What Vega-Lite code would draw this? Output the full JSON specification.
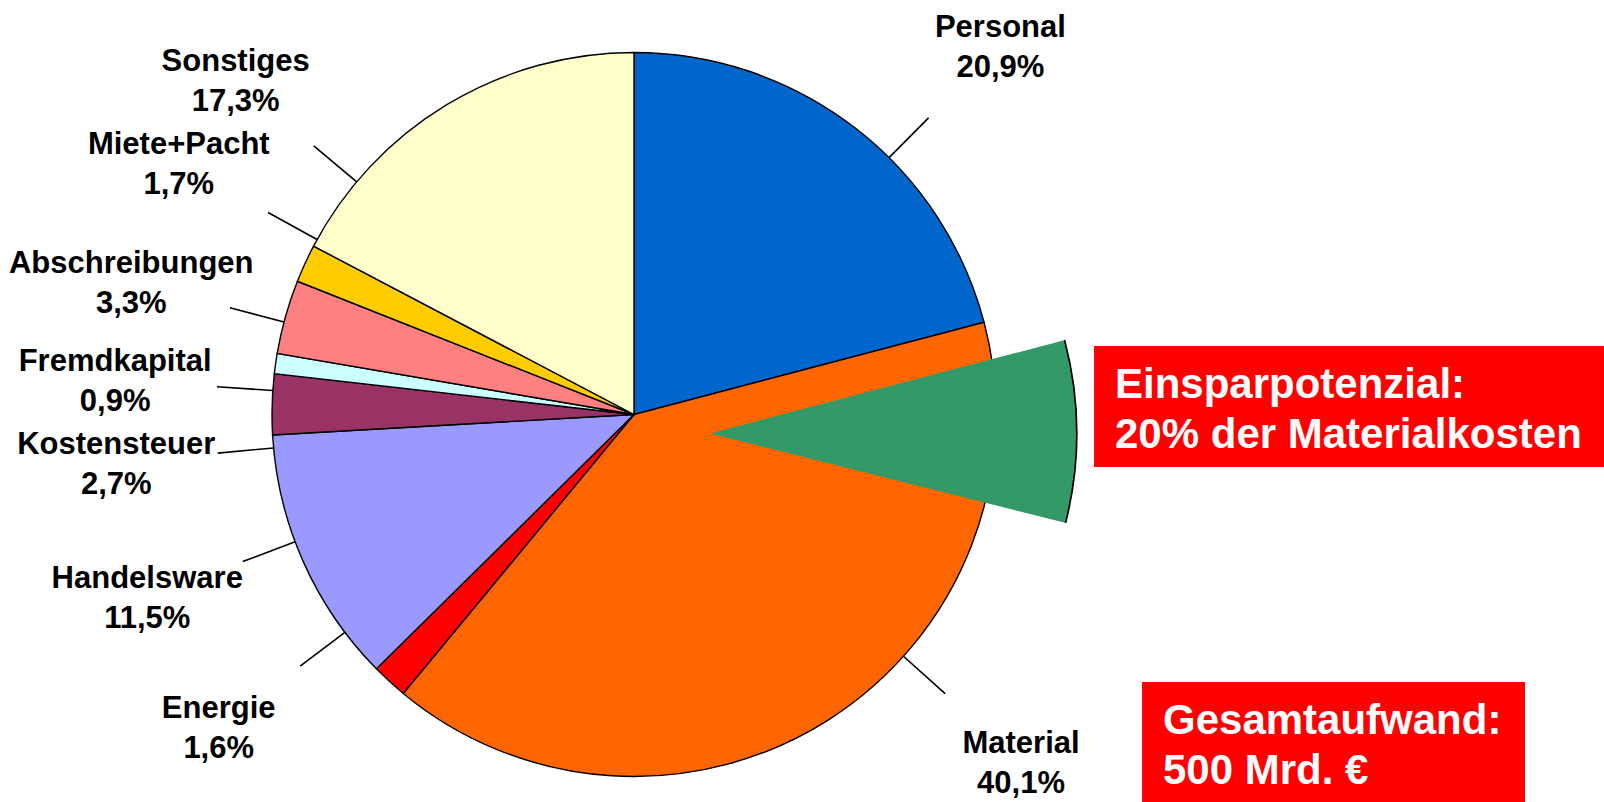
{
  "$schema": "https://vega.github.io/schema/vega-lite/v6.json",
  "background": "#ffffff",
  "padding": 0,
  "bounds": "flush",
  "spacing": 0,
  "config": {
    "view": {"stroke": null},
    "text": {"font": "Liberation Sans"},
    "locale": {"number": {"decimal": ",", "thousands": ".", "grouping": [3], "currency": ["", " €"]}}
  },
  "datasets": {
    "kosten": [
      {"Kategorie": "Personal", "Anteil": 0.209, "Nr": 1},
      {"Kategorie": "Einsparpotenzial", "Anteil": 0.0802, "Nr": 2},
      {"Kategorie": "Material", "Anteil": 0.401, "Nr": 3},
      {"Kategorie": "Energie", "Anteil": 0.016, "Nr": 4},
      {"Kategorie": "Handelsware", "Anteil": 0.115, "Nr": 5},
      {"Kategorie": "Kostensteuer", "Anteil": 0.027, "Nr": 6},
      {"Kategorie": "Fremdkapital", "Anteil": 0.009, "Nr": 7},
      {"Kategorie": "Abschreibungen", "Anteil": 0.033, "Nr": 8},
      {"Kategorie": "Miete+Pacht", "Anteil": 0.017, "Nr": 9},
      {"Kategorie": "Sonstiges", "Anteil": 0.173, "Nr": 10}
    ],
    "hinweis1": [{"Hinweis": "Einsparpotenzial:\n20% der Materialkosten"}],
    "hinweis2": [{"Hinweis": "Gesamtaufwand:\n500 Mrd. €"}]
  },
  "vconcat": [
    {"width": 1, "height": 27, "data": {"values": [{}]}, "mark": "text", "encoding": {"text": {"value": ""}}},
    {
      "hconcat": [
        {"width": 174, "height": 775, "data": {"values": [{}]}, "mark": "text", "encoding": {"text": {"value": ""}}},
        {
          "width": 920,
          "height": 775,
          "data": {"name": "kosten"},
          "resolve": {"scale": {"theta": "independent"}},
          "layer": [
            {
              "transform": [{"filter": "datum.Kategorie !== 'Einsparpotenzial'"}],
              "mark": {"type": "arc", "radius": 362, "stroke": "#000000", "strokeWidth": 1.4},
              "encoding": {
                "theta": {"field": "Anteil", "type": "quantitative", "stack": true, "scale": {"domain": [0, 1], "zero": false, "nice": false}},
                "color": {
                  "field": "Kategorie", "type": "nominal", "legend": null,
                  "scale": {
                    "domain": ["Personal", "Einsparpotenzial", "Material", "Energie", "Handelsware", "Kostensteuer", "Fremdkapital", "Abschreibungen", "Miete+Pacht", "Sonstiges"],
                    "range": ["#0066cc", "#339966", "#ff6600", "#ff0000", "#9999ff", "#993366", "#ccffff", "#ff8080", "#ffcc00", "#ffffcc"]
                  }
                },
                "order": {"field": "Nr", "type": "quantitative"}
              }
            },
            {
              "transform": [{"filter": "datum.Kategorie !== 'Einsparpotenzial'"}],
              "mark": {"type": "arc", "radius": 418, "radius2": 362, "padAngle": 3.1, "filled": false, "stroke": "#000000", "strokeWidth": 1.6},
              "encoding": {
                "theta": {"field": "Anteil", "type": "quantitative", "stack": true,
                  "scale": {"type": "linear", "domain": [0, 0.209, 0.61, 0.626, 0.741, 0.768, 0.777, 0.81, 0.827, 1], "range": [0.76271, 0.80111, 3.80307, 4.33016, 4.37554, 4.86423, 4.69319, 5.24821, 5.18538, 5.63567], "zero": false, "nice": false}},
                "detail": {"field": "Kategorie", "type": "nominal"},
                "order": {"field": "Nr", "type": "quantitative"}
              }
            },
            {
              "transform": [{"filter": {"field": "Kategorie", "oneOf": ["Personal", "Einsparpotenzial"]}}],
              "mark": {"type": "arc", "radius": 367, "xOffset": 76, "yOffset": 19},
              "encoding": {
                "theta": {"field": "Anteil", "type": "quantitative", "stack": true, "scale": {"domain": [0, 1], "zero": false, "nice": false}},
                "color": {"field": "Kategorie", "type": "nominal", "legend": null},
                "opacity": {"condition": {"test": "datum.Kategorie === 'Einsparpotenzial'", "value": 1}, "value": 0},
                "order": {"field": "Nr", "type": "quantitative"}
              }
            },
            {
              "transform": [{"filter": {"field": "Kategorie", "oneOf": ["Personal", "Einsparpotenzial"]}}],
              "mark": {"type": "arc", "radius": 367.5, "radius2": 365.8, "xOffset": 76, "yOffset": 19, "color": "#000000"},
              "encoding": {
                "theta": {"field": "Anteil", "type": "quantitative", "stack": true, "scale": {"domain": [0, 1], "zero": false, "nice": false}},
                "detail": {"field": "Kategorie", "type": "nominal"},
                "opacity": {"condition": {"test": "datum.Kategorie === 'Einsparpotenzial'", "value": 1}, "value": 0},
                "order": {"field": "Nr", "type": "quantitative"}
              }
            },
            {
              "transform": [{"filter": "datum.Kategorie !== 'Einsparpotenzial'"}],
              "mark": {"type": "text", "radius": 520, "dy": -9, "fontSize": 31, "fontWeight": "bold", "align": "center", "baseline": "alphabetic", "color": "#000000"},
              "encoding": {
                "theta": {"field": "Anteil", "type": "quantitative", "stack": true,
                  "scale": {"type": "linear", "domain": [0, 0.209, 0.61, 0.626, 0.741, 0.768, 0.777, 0.81, 0.827, 1], "range": [0.76271, 0.80111, 3.80307, 4.33016, 4.37554, 4.86423, 4.69319, 5.24821, 5.18538, 5.63567], "zero": false, "nice": false}},
                "detail": {"field": "Kategorie", "type": "nominal"},
                "order": {"field": "Nr", "type": "quantitative"},
                "text": {"field": "Kategorie", "type": "nominal"}
              }
            },
            {
              "transform": [{"filter": "datum.Kategorie !== 'Einsparpotenzial'"}],
              "mark": {"type": "text", "radius": 520, "dy": 31, "fontSize": 31, "fontWeight": "bold", "align": "center", "baseline": "alphabetic", "color": "#000000"},
              "encoding": {
                "theta": {"field": "Anteil", "type": "quantitative", "stack": true,
                  "scale": {"type": "linear", "domain": [0, 0.209, 0.61, 0.626, 0.741, 0.768, 0.777, 0.81, 0.827, 1], "range": [0.76271, 0.80111, 3.80307, 4.33016, 4.37554, 4.86423, 4.69319, 5.24821, 5.18538, 5.63567], "zero": false, "nice": false}},
                "detail": {"field": "Kategorie", "type": "nominal"},
                "order": {"field": "Nr", "type": "quantitative"},
                "text": {"field": "Anteil", "type": "quantitative", "format": ".1%"}
              }
            }
          ]
        },
        {
          "vconcat": [
            {"width": 1, "height": 104, "data": {"values": [{}]}, "mark": "text", "encoding": {"text": {"value": ""}}},
            {
              "width": 510, "height": 121,
              "view": {"fill": "#ff0000", "stroke": null},
              "data": {"name": "hinweis1"},
              "mark": {"type": "text", "align": "left", "baseline": "alphabetic", "dx": -234, "dy": -8.5, "fontSize": 42, "fontWeight": "bold", "color": "#ffffff", "lineBreak": "\n", "lineHeight": 50},
              "encoding": {"text": {"field": "Hinweis", "type": "nominal"}}
            },
            {
              "hconcat": [
                {"width": 48, "height": 120, "data": {"values": [{}]}, "mark": "text", "encoding": {"text": {"value": ""}}},
                {
                  "width": 383, "height": 120,
                  "view": {"fill": "#ff0000", "stroke": null},
                  "data": {"name": "hinweis2"},
                  "mark": {"type": "text", "align": "left", "baseline": "alphabetic", "dx": -170.5, "dy": -8, "fontSize": 42, "fontWeight": "bold", "color": "#ffffff", "lineBreak": "\n", "lineHeight": 50},
                  "encoding": {"text": {"field": "Hinweis", "type": "nominal"}}
                }
              ],
              "spacing": 0,
              "bounds": "flush"
            }
          ],
          "spacing": 215,
          "bounds": "flush"
        }
      ],
      "spacing": 0,
      "bounds": "flush"
    }
  ]
}
